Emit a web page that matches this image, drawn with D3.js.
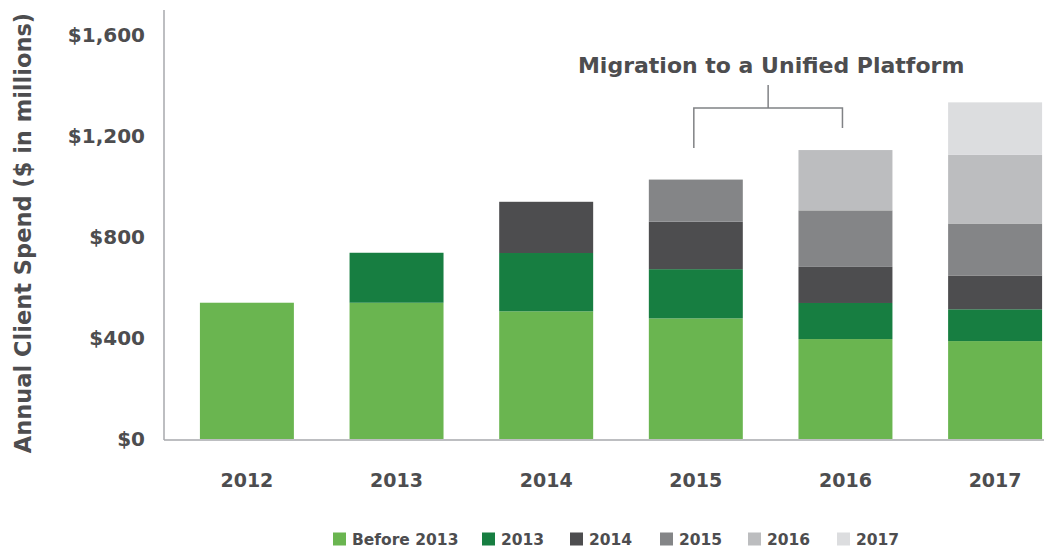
<!DOCTYPE html>
<html lang="en">
<head>
<meta charset="UTF-8">
<title>Annual Client Spend</title>
<script src="https://d3js.org/d3.v7.min.js"></script>
<style>
    body { margin: 0; background: #fff; overflow: hidden; }
    text { font-family: "DejaVu Sans", sans-serif; font-weight: bold; fill: #4d4d4f; }
    .axis-line { stroke: #a7a9ac; stroke-width: 1.5; }
</style>
</head>
<body>
<svg id="chart" width="1044" height="552"></svg>
<script>
    const years = ["2012", "2013", "2014", "2015", "2016", "2017"];
    const cohorts = ["Before 2013", "2013", "2014", "2015", "2016", "2017"];
    const colors = ["#6ab550", "#177e41", "#4d4d4f", "#848587", "#bcbdbf", "#dcdddf"];
    // spend per cohort, one value per year ($ millions)
    const before2013 = [540, 540, 506, 478, 396, 388];
    const c2013 = [0, 198, 231, 195, 143, 126];
    const c2014 = [0, 0, 203, 188, 143, 134];
    const c2015 = [0, 0, 0, 167, 224, 206];
    const c2016 = [0, 0, 0, 0, 239, 273];
    const c2017 = [0, 0, 0, 0, 0, 207];
    const yTicks = [0, 400, 800, 1200, 1600];

    const series = [before2013, c2013, c2014, c2015, c2016, c2017];
    const table = years.map((yr, i) => {
        const row = { year: yr };
        cohorts.forEach((c, j) => row[c] = series[j][i]);
        return row;
    });

    const svg = d3.select("#chart");
    const left = 164, bottom = 439;

    const x = d3.scaleBand().domain(years)
        .range([left, 1078]).paddingInner(0.372).paddingOuter(0.24);
    const y = d3.scaleLinear().domain([0, 1700]).range([bottom, 10]);
    const color = d3.scaleOrdinal().domain(cohorts).range(colors);

    const stack = d3.stack().keys(cohorts);
    const layers = stack(table);

    svg.append("g").selectAll("g")
        .data(layers)
        .join("g")
        .attr("fill", d => color(d.key))
        .selectAll("rect")
        .data(d => d.filter(p => p[1] - p[0] > 0))
        .join("rect")
        .attr("x", d => x(d.data.year))
        .attr("width", x.bandwidth())
        .attr("y", d => y(d[1]))
        .attr("height", d => y(d[0]) - y(d[1]));

    // axes lines
    svg.append("line").attr("class", "axis-line")
        .attr("x1", left).attr("x2", left).attr("y1", y(1700)).attr("y2", bottom + 1);
    svg.append("line").attr("class", "axis-line")
        .attr("x1", left).attr("x2", 1044).attr("y1", bottom + 1).attr("y2", bottom + 1);

    // y tick labels
    svg.append("g").selectAll("text")
        .data(yTicks)
        .join("text")
        .attr("x", 145)
        .attr("y", d => y(d))
        .attr("dy", "0.36em")
        .attr("text-anchor", "end")
        .style("font-size", "20px")
        .text(d => "$" + d3.format(",")(d));

    // x labels
    svg.append("g").selectAll("text")
        .data(years)
        .join("text")
        .attr("x", d => x(d) + x.bandwidth() / 2)
        .attr("y", 480)
        .attr("dy", "0.36em")
        .attr("text-anchor", "middle")
        .style("font-size", "19px")
        .text(d => d);

    svg.append("text")
        .attr("transform", `translate(23,233) rotate(-90)`)
        .attr("dy", "0.36em")
        .attr("text-anchor", "middle")
        .style("font-size", "22.5px")
        .text("Annual Client Spend ($ in millions)");

    // migration bracket over 2015-2016
    const bx1 = x("2015") + x.bandwidth() / 2 - 2;
    const bx2 = x("2016") + x.bandwidth() / 2 - 3;
    const bmid = (bx1 + bx2) / 2;
    svg.append("path")
        .attr("d", `M${bx1},148 V108 H${bx2} V128 M${bmid},108 V85`)
        .attr("fill", "none")
        .attr("stroke", "#808285")
        .attr("stroke-width", 1.5);
    svg.append("text")
        .attr("x", bmid + 3)
        .attr("y", 65)
        .attr("dy", "0.36em")
        .attr("text-anchor", "middle")
        .style("font-size", "22px")
        .text("Migration to a Unified Platform");

    // legend
    const legendX = [333, 482, 570, 660, 748, 837];
    const legend = svg.append("g").selectAll("g")
        .data(cohorts)
        .join("g")
        .attr("transform", (d, i) => `translate(${legendX[i]},539)`);
    legend.append("rect")
        .attr("x", 0).attr("y", -6.5)
        .attr("width", 13).attr("height", 13)
        .attr("fill", d => color(d));
    legend.append("text")
        .attr("x", 19)
        .attr("dy", "0.36em")
        .style("font-size", "15.5px")
        .text(d => d);
</script>
</body>
</html>
